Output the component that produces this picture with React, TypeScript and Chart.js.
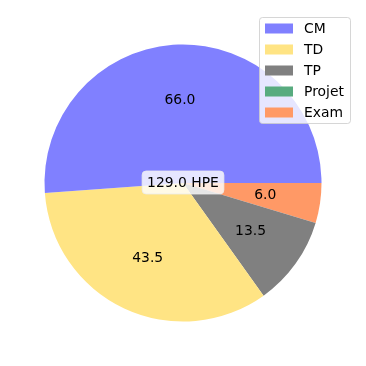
import { useEffect, useRef } from "react";
import { Chart, registerables } from "chart.js";

Chart.register(...registerables);

const categories = ["CM", "TD", "TP", "Projet", "Exam"];
const hours = [66.0, 43.5, 13.5, 0, 6.0];
const colors = ["#8080ff", "#ffe484", "#808080", "#58ab7f", "#ff9966"];
const totalUnit = "HPE";

const FONT = '"DejaVu Sans", sans-serif';
const FS = 13.9;

// drawing order: reversed so that clockwise Chart.js mimics counter-clockwise matplotlib
const order = categories.map((_, i) => categories.length - 1 - i);

const sliceLabels = {
  id: "sliceLabels",
  afterDatasetsDraw(chart: any) {
    const ctx = chart.ctx as CanvasRenderingContext2D;
    const meta = chart.getDatasetMeta(0);
    const data = chart.data.datasets[0].data as number[];
    ctx.save();
    ctx.font = `${FS}px ${FONT}`;
    ctx.fillStyle = "#000";
    ctx.textAlign = "center";
    ctx.textBaseline = "middle";
    let cx = 0;
    let cy = 0;
    meta.data.forEach((arc: any, i: number) => {
      const v = data[i];
      const p = arc.getProps(["x", "y", "startAngle", "endAngle", "outerRadius"], true);
      cx = p.x;
      cy = p.y;
      if (!v) return;
      const mid = (p.startAngle + p.endAngle) / 2;
      const r = p.outerRadius * 0.6;
      ctx.fillText(v.toFixed(1), p.x + r * Math.cos(mid), p.y + r * Math.sin(mid));
    });
    const total = data.reduce((a, b) => a + b, 0);
    const txt = `${total.toFixed(1)} ${totalUnit}`;
    const w = ctx.measureText(txt).width;
    const bw = w + 10;
    const bh = 23;
    const bx = cx - bw / 2;
    const by = cy - 12;
    ctx.beginPath();
    ctx.roundRect(bx, by, bw, bh, 4);
    ctx.fillStyle = "rgba(255,255,255,0.8)";
    ctx.fill();
    ctx.strokeStyle = "rgba(235,235,235,0.8)";
    ctx.lineWidth = 1;
    ctx.stroke();
    ctx.fillStyle = "#000";
    ctx.fillText(txt, cx, by + bh / 2 + 0.5);
    ctx.restore();
  },
};

const boxLegend = {
  id: "boxLegend",
  afterDraw(chart: any) {
    const ctx = chart.ctx as CanvasRenderingContext2D;
    ctx.save();
    const x = 259.5;
    const y = 17.5;
    const w = 91;
    const h = 106;
    ctx.beginPath();
    ctx.roundRect(x, y, w, h, 3);
    ctx.fillStyle = "rgba(255,255,255,0.8)";
    ctx.fill();
    ctx.strokeStyle = "rgba(204,204,204,0.8)";
    ctx.lineWidth = 1;
    ctx.stroke();
    ctx.font = `${FS}px ${FONT}`;
    ctx.textAlign = "left";
    ctx.textBaseline = "middle";
    categories.forEach((c, i) => {
      const ry = 28.5 + i * 21;
      ctx.fillStyle = colors[i];
      ctx.fillRect(265, ry - 5, 28, 10);
      ctx.fillStyle = "#000";
      ctx.fillText(c, 304, ry + 0.5);
    });
    ctx.restore();
  },
};

export default function App() {
  const ref = useRef<HTMLCanvasElement>(null);
  useEffect(() => {
    if (!ref.current) return;
    const chart = new Chart(ref.current, {
      type: "pie",
      data: {
        labels: order.map((i) => categories[i]),
        datasets: [
          {
            data: order.map((i) => hours[i]),
            backgroundColor: order.map((i) => colors[i]),
            borderWidth: 0,
          },
        ],
      },
      options: {
        responsive: false,
        animation: false,
        events: [],
        rotation: 90,
        layout: { padding: { left: 44.5, right: 44.5, top: 44.5, bottom: 44.5 } },
        plugins: {
          legend: { display: false },
          tooltip: { enabled: false },
        },
      },
      plugins: [sliceLabels, boxLegend],
    });
    return () => chart.destroy();
  }, []);
  return (
    <div style={{ position: "fixed", left: 0, top: 0, width: 366, height: 366, background: "#fff" }}>
      <canvas ref={ref} width={366} height={366} style={{ display: "block" }} />
    </div>
  );
}
